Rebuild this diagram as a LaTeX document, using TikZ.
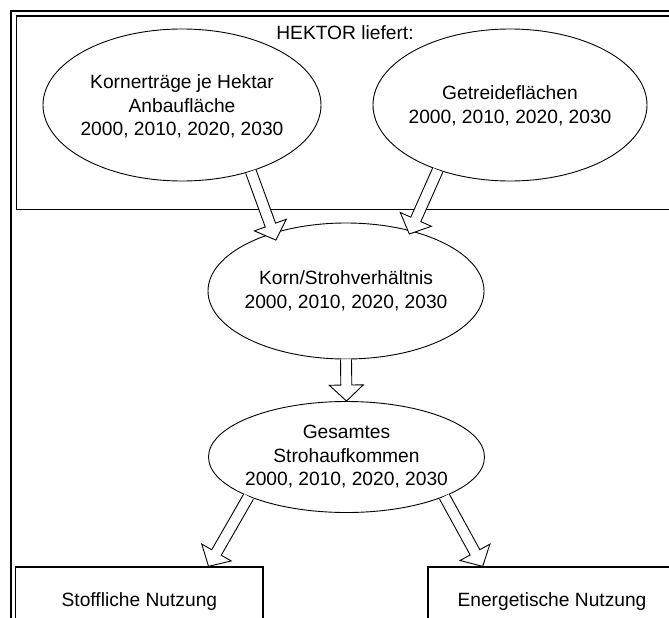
\documentclass[tikz,border=0pt]{standalone}
\usepackage{fontspec}
\setmainfont{Liberation Sans}
\usetikzlibrary{shapes.geometric,calc}
\tikzset{
  ell/.style={draw, ellipse, inner sep=0pt, line width=0.9pt, fill=white},
  lbl/.style={align=center, inner sep=0pt, font=\fontsize{19.2}{23.5}\selectfont},
  outbox/.style={draw, rectangle, inner sep=0pt, line width=1.3pt, fill=white, font=\fontsize{19.2}{23.5}\selectfont},
  barrow/.style={draw=black, fill=white, line width=0.9pt, line join=miter},
}
\newcommand{\blockarr}[2]{%
  \path #1 coordinate (baS) #2 coordinate (baT);
  \path ($(baT)!16pt!(baS)$) coordinate (baB);
  \filldraw[barrow] ($(baS)!5.5pt!90:(baT)$) -- ($(baB)!5.5pt!90:(baT)$) -- ($(baB)!17pt!90:(baT)$) -- (baT) -- ($(baB)!17pt!-90:(baT)$) -- ($(baB)!5.5pt!-90:(baT)$) -- ($(baS)!5.5pt!-90:(baT)$);
}
\begin{document}
\begin{tikzpicture}[x=1pt,y=-1pt]
\useasboundingbox (0,0) rectangle (669,618);
\clip (0,0) rectangle (669,618);
% outer frame
\draw[line width=2.7pt] (11,11) rectangle (720,720);
% HEKTOR box
\node[draw, line width=1.3pt, anchor=north west, minimum width=660pt, minimum height=193pt, inner sep=0pt] (hek) at (15.5,15.5) {};
\node[lbl] (hektxt) at (345,33) {HEKTOR liefert:};
% ellipses
\node[ell, minimum width=278pt, minimum height=152pt] (k) at (182,105) {};
\node[lbl] (kt) at (182,106.5) {Kornerträge je Hektar\\Anbaufläche\\2000, 2010, 2020, 2030};
\node[ell, minimum width=274pt, minimum height=152pt] (g) at (510,105) {};
\node[lbl] (gt) at (510,106) {Getreideflächen\\2000, 2010, 2020, 2030};
\node[ell, minimum width=276pt, minimum height=136pt] (ks) at (346,291) {};
\node[lbl] (kst) at (346,291) {Korn/Strohverhältnis\\2000, 2010, 2020, 2030};
\node[ell, minimum width=276pt, minimum height=111pt] (ges) at (346.5,457) {};
\node[lbl] (gest) at (346.5,457) {Gesamtes\\Strohaufkommen\\2000, 2010, 2020, 2030};
% boxes
\node[outbox, minimum width=247.3pt, minimum height=70pt] (sto) at (139.4,602) {Stoffliche Nutzung};
\node[outbox, minimum width=248pt, minimum height=70pt] (ene) at (552,602) {Energetische Nutzung};
% arrows
\blockarr{(k.-44)}{($(ks.center)!0.9!(ks.144.5)$)}
\blockarr{(g.-138.4)}{($(ks.center)!0.95!(ks.42.6)$)}
\blockarr{(ks.south)}{(ges.north)}
\blockarr{(ges.-158.5)}{($(sto.north west)!0.778!(sto.north east)$)}
\blockarr{(ges.-22)}{($(ene.north west)!0.222!(ene.north east)$)}
\end{tikzpicture}
\end{document}
